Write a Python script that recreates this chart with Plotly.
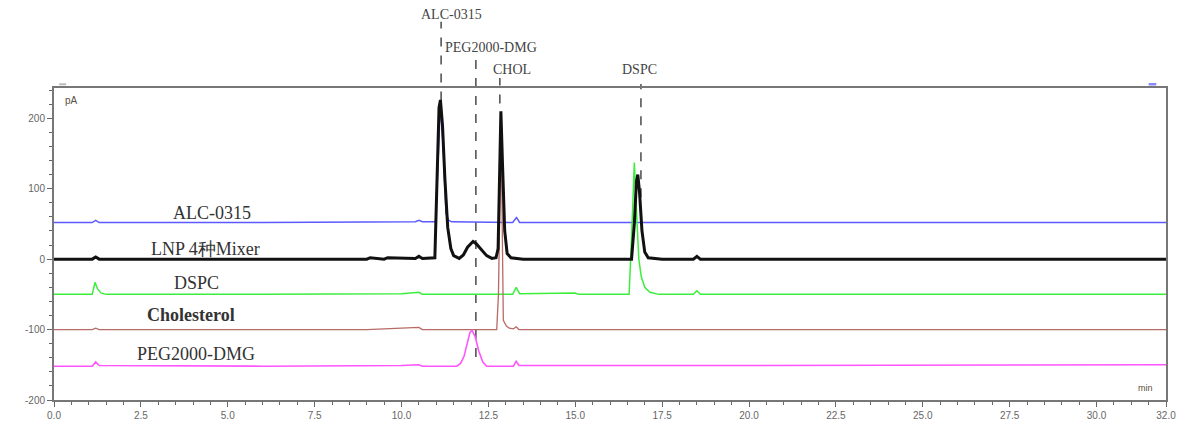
import plotly.graph_objects as go

# ---------------- data ----------------
alc_t = [0, 1.1, 1.2, 1.3, 6.0, 9.0, 9.5, 10.0, 10.4, 10.5, 10.6, 10.98, 11.05, 11.12, 11.2, 11.28, 11.36, 11.45, 13.2, 13.31, 13.4, 20.0, 32.0]
alc_v = [52, 52, 55, 52, 52, 52, 53, 53, 53, 55, 53, 53, 130, 220, 160, 65, 55, 53, 52, 59, 52, 52, 52]

mix_t = [0, 1.1, 1.2, 1.3, 5.0, 9.0, 9.1, 9.5, 9.6, 10.0, 10.4, 10.5, 10.6, 10.96, 11.02, 11.08, 11.12, 11.18, 11.25, 11.33, 11.42, 11.5, 11.66, 11.78, 11.9, 12.0, 12.06, 12.15, 12.3, 12.45, 12.6, 12.72, 12.78, 12.83, 12.86, 12.91, 12.97, 13.04, 13.15, 13.5, 16.62, 16.7, 16.76, 16.8, 16.85, 16.92, 17.0, 17.1, 17.5, 18.4, 18.5, 18.6, 25.0, 32.0]
mix_v = [0, 0, 3, 0, 0, 0, 2, 0, 2, 1, 1, 4, 1, 2, 100, 215, 226, 190, 113, 45, 15, 5, 1, 6, 17, 23, 25, 22, 13, 5, 1, 2, 15, 130, 210, 130, 40, 8, 2, 0, 0, 50, 110, 120, 95, 40, 10, 2, 0, 0, 4, 0, 0, 0]

dspc_t = [0, 1.1, 1.18, 1.25, 1.35, 1.5, 6.0, 9.0, 9.5, 10.0, 10.5, 10.6, 13.2, 13.3, 13.4, 15.0, 15.1, 16.55, 16.62, 16.7, 16.76, 16.83, 16.9, 17.0, 17.15, 17.4, 18.4, 18.5, 18.6, 25.0, 32.0]
dspc_v = [-50, -50, -33, -42, -48, -50, -50, -50, -49, -49, -47, -50, -50, -40, -49, -48, -50, -50, 30, 137, 70, 0, -25, -40, -47, -50, -50, -45, -50, -50, -50]

chol_t = [0, 1.1, 1.2, 1.3, 9.0, 9.5, 10.0, 10.5, 10.6, 12.74, 12.79, 12.83, 12.87, 12.9, 12.93, 13.02, 13.1, 13.22, 13.3, 13.38, 20.0, 32.0]
chol_v = [-100, -100, -98, -100, -100, -99, -99, -97, -100, -100, -50, 80, 205, 40, -87, -95, -98, -99, -96, -100, -100, -100]

peg_t = [0, 1.1, 1.2, 1.3, 6.0, 9.0, 9.5, 10.0, 10.5, 10.6, 11.59, 11.7, 11.8, 11.9, 11.97, 12.03, 12.12, 12.22, 12.34, 12.45, 13.22, 13.3, 13.38, 20.0, 32.0]
peg_v = [-152, -152, -146, -151, -152, -152, -151, -151, -150, -152, -152, -148, -138, -118, -104, -101, -110, -130, -146, -152, -152, -145, -151, -151, -150]

series_names = ["ALC-0315", "DSPC", "Cholesterol", "PEG2000-DMG", "LNP 4种Mixer"]
peak_names = ["ALC-0315", "PEG2000-DMG", "CHOL", "DSPC"]
peak_times = [11.14, 12.14, 12.83, 16.89]
x_ticks = [0.0, 2.5, 5.0, 7.5, 10.0, 12.5, 15.0, 17.5, 20.0, 22.5, 25.0, 27.5, 30.0, 32.0]
y_ticks = [-200, -100, 0, 100, 200]

# ---------------- figure ----------------
fig = go.Figure()
traces = [
    (alc_t, alc_v, "#5a5aff", 1.5, series_names[0]),
    (dspc_t, dspc_v, "#3cee3c", 1.5, series_names[1]),
    (chol_t, chol_v, "#b86a66", 1.3, series_names[2]),
    (peg_t, peg_v, "#ff55ff", 1.6, series_names[3]),
    (mix_t, mix_v, "#111111", 3.0, series_names[4]),
]
for t, v, c, w, n in traces:
    fig.add_trace(go.Scatter(x=t, y=v, mode="lines", name=n,
                             line=dict(color=c, width=w), hoverinfo="skip"))

# dashed peak marker lines (paper y extents)
line_y = [(0.96, 1.212), (0.138, 1.115), (0.95, 1.032), (0.65, 1.013)]
for tx, (y0, y1) in zip(peak_times, line_y):
    fig.add_shape(type="line", xref="x", yref="paper", x0=tx, x1=tx, y0=y0, y1=y1,
                  line=dict(color="#555555", width=1.6, dash="dash"), layer="below")

# small marks on the top border
fig.add_shape(type="line", xref="x", yref="paper", x0=0.15, x1=0.35, y0=1.012, y1=1.012,
              line=dict(color="#bbbbbb", width=2))
fig.add_shape(type="line", xref="x", yref="paper", x0=31.5, x1=31.72, y0=1.012, y1=1.012,
              line=dict(color="#8888ff", width=2.5))

serif = "Liberation Serif, Times New Roman, serif"
top_labels = [
    dict(x=11.45, y=1.237, text=peak_names[0], xanchor="center"),
    dict(x=11.2, y=1.131, text=peak_names[1], xanchor="left"),
    dict(x=13.17, y=1.058, text=peak_names[2], xanchor="center"),
    dict(x=16.86, y=1.058, text=peak_names[3], xanchor="center"),
]
for a in top_labels:
    fig.add_annotation(x=a["x"], y=a["y"], xref="x", yref="paper", text=a["text"],
                       xanchor=a["xanchor"], yanchor="middle", showarrow=False,
                       font=dict(family=serif, size=14, color="#444444"))

trace_labels = [
    (4.55, 65, series_names[0], False),
    (4.35, 14, series_names[4], False),
    (4.1, -34, series_names[1], False),
    (3.95, -80, series_names[2], True),
    (4.1, -134, series_names[3], False),
]
for x, y, txt, bold in trace_labels:
    fig.add_annotation(x=x, y=y, xref="x", yref="y",
                       text=f"<b>{txt}</b>" if bold else txt,
                       showarrow=False, xanchor="center", yanchor="middle",
                       font=dict(family=serif, size=18, color="#333333"))

fig.add_annotation(x=0.008, y=0.985, xref="paper", yref="paper", text="pA",
                   showarrow=False, xanchor="left", yanchor="top",
                   font=dict(family="Liberation Sans, Arial", size=10, color="#5a5040"))
fig.add_annotation(x=0.99, y=0.015, xref="paper", yref="paper", text="min",
                   showarrow=False, xanchor="right", yanchor="bottom",
                   font=dict(family="Liberation Sans, Arial", size=9, color="#5a5040"))

# page body has an 8px margin, so the figure is sized/offset to compensate
fig.update_layout(
    width=1177, height=416,
    margin=dict(l=46, r=19, t=80, b=24, autoexpand=False),
    paper_bgcolor="white", plot_bgcolor="white",
    showlegend=False,
    xaxis=dict(range=[0, 32], tickvals=x_ticks, ticktext=[f"{v:.1f}" for v in x_ticks],
               automargin=False,
               showgrid=False, zeroline=False, showline=True, mirror=True,
               linecolor="#777777", linewidth=2, ticks="outside", ticklen=5,
               tickcolor="#666666", tickfont=dict(family="Liberation Sans, Arial", size=10, color="#666666"),
               minor=dict(dtick=0.5, ticks="outside", ticklen=3, tickcolor="#666666")),
    yaxis=dict(range=[-200, 243], tickvals=y_ticks, ticktext=[str(v) for v in y_ticks],
               automargin=False,
               showgrid=False, zeroline=False, showline=True, mirror=True,
               linecolor="#777777", linewidth=2, ticks="outside", ticklen=5,
               tickcolor="#666666", tickfont=dict(family="Liberation Sans, Arial", size=10, color="#666666"),
               minor=dict(dtick=20, ticks="outside", ticklen=3, tickcolor="#666666")),
)

fig.write_html("out.html")
